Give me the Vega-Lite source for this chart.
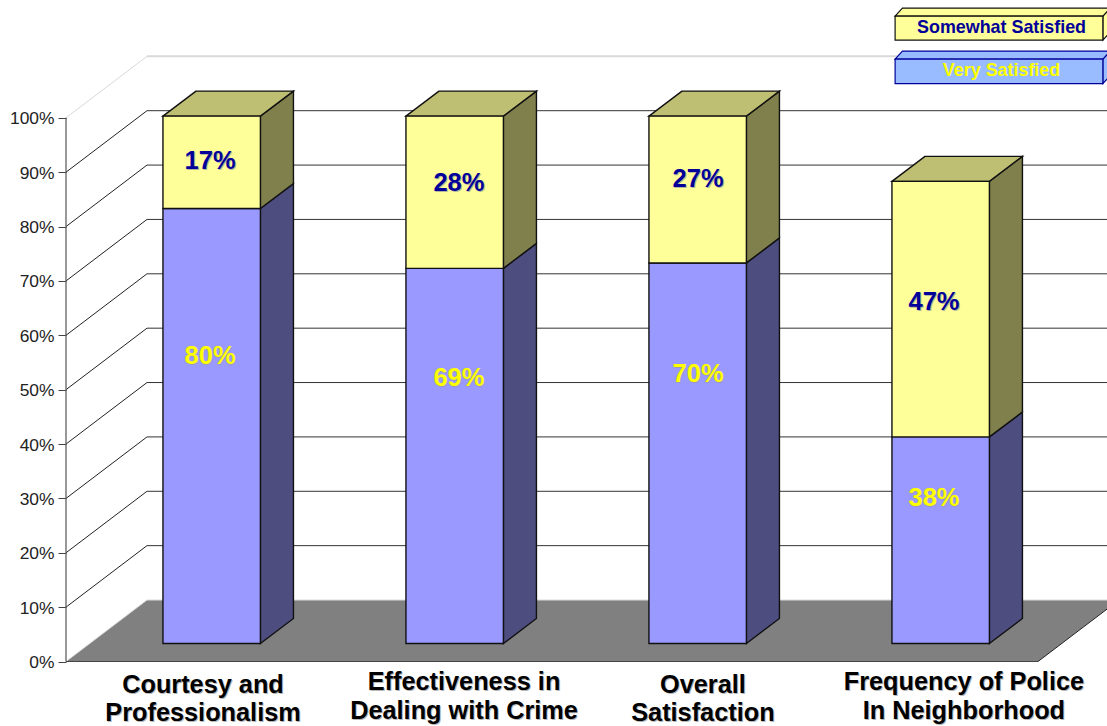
{
"$schema":"https://vega.github.io/schema/vega-lite/v6.json",
"width":1107,"height":726,"padding":0,"autosize":{"type":"none"},"background":"white",
"config":{"view":{"stroke":null},"text":{"font":"Liberation Sans"}},
"params":[
{"name":"wallX","value":0.3333},{"name":"wallY","value":11.31},
{"name":"barStart","value":0.399},{"name":"barWidth","value":0.401},
{"name":"barDepthX","value":0.136},{"name":"barDepthY","value":4.6},{"name":"lift","value":3.31}
],
"datasets":{
"shares":[
{"question":"Courtesy and\nProfessionalism","slot":0,"series":"Very Satisfied","share":80},
{"question":"Courtesy and\nProfessionalism","slot":0,"series":"Somewhat Satisfied","share":17},
{"question":"Effectiveness in\nDealing with Crime","slot":1,"series":"Very Satisfied","share":69},
{"question":"Effectiveness in\nDealing with Crime","slot":1,"series":"Somewhat Satisfied","share":28},
{"question":"Overall\nSatisfaction","slot":2,"series":"Very Satisfied","share":70},
{"question":"Overall\nSatisfaction","slot":2,"series":"Somewhat Satisfied","share":27},
{"question":"Frequency of Police\nIn Neighborhood","slot":3,"series":"Very Satisfied","share":38},
{"question":"Frequency of Police\nIn Neighborhood","slot":3,"series":"Somewhat Satisfied","share":47}
],
"questions":[
{"question":"Courtesy and\nProfessionalism","slot":0},
{"question":"Effectiveness in\nDealing with Crime","slot":1},
{"question":"Overall\nSatisfaction","slot":2},
{"question":"Frequency of Police\nIn Neighborhood","slot":3}
],
"ticks":[{"pct":0},{"pct":10},{"pct":20},{"pct":30},{"pct":40},{"pct":50},{"pct":60},{"pct":70},{"pct":80},{"pct":90},{"pct":100}],
"legendItems":[{"series":"Somewhat Satisfied","rank":0},{"series":"Very Satisfied","rank":1}],
"edges":[{"edge":0},{"edge":1}]
},
"layer":[
{"data":{"name":"edges"},
 "transform":[{"calculate":"datum.edge*wallX","as":"xa"},{"calculate":"4+datum.edge*wallX","as":"xb"},{"calculate":"datum.edge*wallY","as":"yy"}],
 "mark":{"type":"area","orient":"horizontal","fill":"#808080","clip":true},
 "encoding":{
  "x":{"field":"xa","type":"quantitative","scale":{"domain":[-0.2716,4.284]},"axis":null},
  "x2":{"field":"xb"},
  "y":{"field":"yy","type":"quantitative","scale":{"domain":[-11.86,121.67]},
   "axis":{"orient":"left","values":[0,10,20,30,40,50,60,70,80,90,100],"labelExpr":"datum.value+'%'","title":null,"domain":false,"grid":false,"offset":-66,"ticks":true,"labels":true,"tickSize":8,"tickColor":"#444444","labelFont":"Liberation Sans","labelFontSize":17.4,"labelColor":"#222222","labelPadding":4,"labelOffset":1,"labelOverlap":false,"labelFlush":false}}}},
{"data":{"name":"ticks"},
 "transform":[{"calculate":"datum.pct+wallY","as":"back"},{"calculate":"wallX","as":"xa"},{"calculate":"4.284","as":"xb"}],
 "mark":{"type":"rule"},
 "encoding":{
  "x":{"field":"xa","type":"quantitative","scale":{"domain":[-0.2716,4.284]},"axis":null},
  "x2":{"field":"xb"},
  "y":{"field":"back","type":"quantitative","scale":{"domain":[-11.86,121.67]}},
  "stroke":{"condition":{"test":"datum.pct==100||datum.pct==0","value":"#d9d9d9"},"value":"#333333"},
  "strokeWidth":{"condition":{"test":"datum.pct==100","value":2},"value":1}}},
{"data":{"name":"ticks"},
 "transform":[{"calculate":"datum.pct+wallY","as":"back"},{"calculate":"0","as":"xa"},{"calculate":"wallX","as":"xb"}],
 "mark":{"type":"rule"},
 "encoding":{
  "x":{"field":"xa","type":"quantitative","scale":{"domain":[-0.2716,4.284]},"axis":null},
  "x2":{"field":"xb"},
  "y":{"field":"pct","type":"quantitative","scale":{"domain":[-11.86,121.67]}},
  "y2":{"field":"back"},
  "stroke":{"condition":{"test":"datum.pct==100||datum.pct==0","value":"#d9d9d9"},"value":"#222222"}}},
{"data":{"name":"ticks"},
 "transform":[{"filter":"datum.pct==0"},{"calculate":"datum.pct+100","as":"top"},{"calculate":"0","as":"xa"}],
 "mark":{"type":"rule","stroke":"#555555","strokeWidth":1.2},
 "encoding":{
  "x":{"field":"xa","type":"quantitative","scale":{"domain":[-0.2716,4.284]},"axis":null},
  "y":{"field":"pct","type":"quantitative","scale":{"domain":[-11.86,121.67]}},
  "y2":{"field":"top"}}},
{"data":{"name":"ticks"},
 "transform":[{"filter":"datum.pct==0"},{"calculate":"0","as":"xa"},{"calculate":"4","as":"xb"}],
 "mark":{"type":"rule","stroke":"#444444","strokeWidth":1.2},
 "encoding":{
  "x":{"field":"xa","type":"quantitative","scale":{"domain":[-0.2716,4.284]},"axis":null},
  "x2":{"field":"xb"},
  "y":{"field":"pct","type":"quantitative","scale":{"domain":[-11.86,121.67]}}}},
{"data":{"name":"ticks"},
 "transform":[{"filter":"datum.pct==0"},{"calculate":"wallY","as":"back"},{"calculate":"4","as":"xa"},{"calculate":"4+wallX","as":"xb"}],
 "mark":{"type":"rule","stroke":"#222222","strokeWidth":1,"clip":true},
 "encoding":{
  "x":{"field":"xa","type":"quantitative","scale":{"domain":[-0.2716,4.284]},"axis":null},
  "x2":{"field":"xb"},
  "y":{"field":"pct","type":"quantitative","scale":{"domain":[-11.86,121.67]}},
  "y2":{"field":"back"}}},
{"data":{"name":"shares"},
 "transform":[
  {"stack":"share","groupby":["question"],"sort":[{"field":"series","order":"descending"}],"as":["low","high"]},
  {"calculate":"[0,1]","as":"edge"},{"flatten":["edge"]},
  {"calculate":"datum.slot+barStart+barWidth+datum.edge*barDepthX","as":"xa"},
  {"calculate":"datum.low+lift+datum.edge*barDepthY","as":"ya"},
  {"calculate":"datum.high+lift+datum.edge*barDepthY","as":"yb"},
  {"calculate":"datum.series+' side'","as":"face"}],
 "mark":{"type":"area","stroke":"#111111","strokeWidth":1.4},
 "encoding":{
  "x":{"field":"xa","type":"quantitative","scale":{"domain":[-0.2716,4.284]},"axis":null},
  "y":{"field":"ya","type":"quantitative","scale":{"domain":[-11.86,121.67]}},
  "y2":{"field":"yb"},
  "detail":[{"field":"question"},{"field":"series"}],
  "fill":{"field":"face","type":"nominal","legend":null,"scale":{"domain":["Very Satisfied front","Very Satisfied side","Somewhat Satisfied front","Somewhat Satisfied side","Somewhat Satisfied top","Somewhat Satisfied key","Very Satisfied key"],"range":["#9999FF","#4D4D80","#FFFF99","#80804D","#BFBF73","#FFFF99","#99BBFF"]}}}},
{"data":{"name":"shares"},
 "transform":[
  {"stack":"share","groupby":["question"],"sort":[{"field":"series","order":"descending"}],"as":["low","high"]},
  {"filter":"datum.series=='Somewhat Satisfied'"},
  {"calculate":"[0,1]","as":"edge"},{"flatten":["edge"]},
  {"calculate":"datum.slot+barStart+datum.edge*barDepthX","as":"xa"},
  {"calculate":"datum.slot+barStart+barWidth+datum.edge*barDepthX","as":"xb"},
  {"calculate":"datum.high+lift+datum.edge*barDepthY","as":"ya"},
  {"calculate":"datum.series+' top'","as":"face"}],
 "mark":{"type":"area","orient":"horizontal","stroke":"#111111","strokeWidth":1.4},
 "encoding":{
  "x":{"field":"xa","type":"quantitative","scale":{"domain":[-0.2716,4.284]},"axis":null},
  "x2":{"field":"xb"},
  "y":{"field":"ya","type":"quantitative","scale":{"domain":[-11.86,121.67]}},
  "detail":{"field":"question"},
  "fill":{"field":"face","type":"nominal","legend":null,"scale":{"domain":["Very Satisfied front","Very Satisfied side","Somewhat Satisfied front","Somewhat Satisfied side","Somewhat Satisfied top","Somewhat Satisfied key","Very Satisfied key"],"range":["#9999FF","#4D4D80","#FFFF99","#80804D","#BFBF73","#FFFF99","#99BBFF"]}}}},
{"data":{"name":"shares"},
 "transform":[
  {"stack":"share","groupby":["question"],"sort":[{"field":"series","order":"descending"}],"as":["low","high"]},
  {"calculate":"datum.slot+barStart","as":"xa"},
  {"calculate":"datum.slot+barStart+barWidth","as":"xb"},
  {"calculate":"datum.low+lift","as":"ya"},
  {"calculate":"datum.high+lift","as":"yb"},
  {"calculate":"datum.series+' front'","as":"face"}],
 "mark":{"type":"rect","stroke":"#111111","strokeWidth":1.4},
 "encoding":{
  "x":{"field":"xa","type":"quantitative","scale":{"domain":[-0.2716,4.284]},"axis":null},
  "x2":{"field":"xb"},
  "y":{"field":"ya","type":"quantitative","scale":{"domain":[-11.86,121.67]}},
  "y2":{"field":"yb"},
  "fill":{"field":"face","type":"nominal","legend":null,"scale":{"domain":["Very Satisfied front","Very Satisfied side","Somewhat Satisfied front","Somewhat Satisfied side","Somewhat Satisfied top","Somewhat Satisfied key","Very Satisfied key"],"range":["#9999FF","#4D4D80","#FFFF99","#80804D","#BFBF73","#FFFF99","#99BBFF"]}}}},
{"data":{"name":"shares"},
 "transform":[
  {"calculate":"[0.593,1.617,2.601,3.572][datum.slot]","as":"xa"},
  {"calculate":"(datum.series=='Very Satisfied'?[56.25,52.15,52.95,30.15]:[92.05,88.05,88.75,66.15])[datum.slot]","as":"ya"},
  {"calculate":"datum.share+'%'","as":"caption"}],
 "mark":{"type":"text","font":"Liberation Sans","fontWeight":"bold","fontSize":25.5,"baseline":"middle","align":"center","dx":1,"dy":1,"fill":"#9a9a9a","opacity":0.7},
 "encoding":{
  "x":{"field":"xa","type":"quantitative","scale":{"domain":[-0.2716,4.284]},"axis":null},
  "y":{"field":"ya","type":"quantitative","scale":{"domain":[-11.86,121.67]}},
  "text":{"field":"caption"}}},
{"data":{"name":"shares"},
 "transform":[
  {"calculate":"[0.593,1.617,2.601,3.572][datum.slot]","as":"xa"},
  {"calculate":"(datum.series=='Very Satisfied'?[56.25,52.15,52.95,30.15]:[92.05,88.05,88.75,66.15])[datum.slot]","as":"ya"},
  {"calculate":"datum.share+'%'","as":"caption"}],
 "mark":{"type":"text","font":"Liberation Sans","fontWeight":"bold","fontSize":25.5,"baseline":"middle","align":"center"},
 "encoding":{
  "x":{"field":"xa","type":"quantitative","scale":{"domain":[-0.2716,4.284]},"axis":null},
  "y":{"field":"ya","type":"quantitative","scale":{"domain":[-11.86,121.67]}},
  "text":{"field":"caption"},
  "color":{"condition":{"test":"datum.series=='Very Satisfied'","value":"#FFFF00"},"value":"#000099"}}},
{"data":{"name":"questions"},
 "transform":[
  {"calculate":"[0.5638,1.638,2.621,3.695][datum.slot]","as":"xa"},
  {"calculate":"[-4.3,-3.8,-4.3,-3.8][datum.slot]","as":"ya"}],
 "mark":{"type":"text","font":"Liberation Sans","fontWeight":"bold","fontSize":25.3,"lineHeight":28.5,"lineBreak":"\n","baseline":"middle","align":"center","dx":1,"dy":1,"fill":"#999999","opacity":0.7},
 "encoding":{
  "x":{"field":"xa","type":"quantitative","scale":{"domain":[-0.2716,4.284]},"axis":null},
  "y":{"field":"ya","type":"quantitative","scale":{"domain":[-11.86,121.67]}},
  "text":{"field":"question"}}},
{"data":{"name":"questions"},
 "transform":[
  {"calculate":"[0.5638,1.638,2.621,3.695][datum.slot]","as":"xa"},
  {"calculate":"[-4.3,-3.8,-4.3,-3.8][datum.slot]","as":"ya"}],
 "mark":{"type":"text","font":"Liberation Sans","fontWeight":"bold","fontSize":25.3,"lineHeight":28.5,"lineBreak":"\n","baseline":"middle","align":"center","fill":"#000000"},
 "encoding":{
  "x":{"field":"xa","type":"quantitative","scale":{"domain":[-0.2716,4.284]},"axis":null},
  "y":{"field":"ya","type":"quantitative","scale":{"domain":[-11.86,121.67]}},
  "text":{"field":"question"}}},
{"data":{"name":"legendItems"},
 "transform":[
  {"calculate":"[0,1]","as":"edge"},{"flatten":["edge"]},
  {"calculate":"4.267+datum.edge*0.03","as":"xa"},
  {"calculate":"[114.3,106.3][datum.rank]+datum.edge*1.47","as":"ya"},
  {"calculate":"[118.7,110.8][datum.rank]+datum.edge*1.47","as":"yb"},
  {"calculate":"datum.series+' key'","as":"face"}],
 "mark":{"type":"area","strokeWidth":1.2,"clip":true},
 "encoding":{
  "x":{"field":"xa","type":"quantitative","scale":{"domain":[-0.2716,4.284]},"axis":null},
  "y":{"field":"ya","type":"quantitative","scale":{"domain":[-11.86,121.67]}},
  "y2":{"field":"yb"},
  "detail":{"field":"series"},
  "stroke":{"field":"series","type":"nominal","legend":null,"scale":{"domain":["Somewhat Satisfied","Very Satisfied"],"range":["#111111","#000099"]}},
  "fill":{"field":"face","type":"nominal","legend":null,"scale":{"domain":["Very Satisfied front","Very Satisfied side","Somewhat Satisfied front","Somewhat Satisfied side","Somewhat Satisfied top","Somewhat Satisfied key","Very Satisfied key"],"range":["#9999FF","#4D4D80","#FFFF99","#80804D","#BFBF73","#FFFF99","#99BBFF"]}}}},
{"data":{"name":"legendItems"},
 "transform":[
  {"calculate":"[0,1]","as":"edge"},{"flatten":["edge"]},
  {"calculate":"3.412+datum.edge*0.03","as":"xa"},
  {"calculate":"4.267+datum.edge*0.03","as":"xb"},
  {"calculate":"[118.7,110.8][datum.rank]+datum.edge*1.47","as":"ya"},
  {"calculate":"datum.series+' key'","as":"face"}],
 "mark":{"type":"area","orient":"horizontal","strokeWidth":1.2},
 "encoding":{
  "x":{"field":"xa","type":"quantitative","scale":{"domain":[-0.2716,4.284]},"axis":null},
  "x2":{"field":"xb"},
  "y":{"field":"ya","type":"quantitative","scale":{"domain":[-11.86,121.67]}},
  "detail":{"field":"series"},
  "stroke":{"field":"series","type":"nominal","legend":null,"scale":{"domain":["Somewhat Satisfied","Very Satisfied"],"range":["#111111","#000099"]}},
  "fill":{"field":"face","type":"nominal","legend":null,"scale":{"domain":["Very Satisfied front","Very Satisfied side","Somewhat Satisfied front","Somewhat Satisfied side","Somewhat Satisfied top","Somewhat Satisfied key","Very Satisfied key"],"range":["#9999FF","#4D4D80","#FFFF99","#80804D","#BFBF73","#FFFF99","#99BBFF"]}}}},
{"data":{"name":"legendItems"},
 "transform":[
  {"calculate":"3.412","as":"xa"},{"calculate":"4.267","as":"xb"},
  {"calculate":"[114.3,106.3][datum.rank]","as":"ya"},
  {"calculate":"[118.7,110.8][datum.rank]","as":"yb"},
  {"calculate":"datum.series+' key'","as":"face"}],
 "mark":{"type":"rect","strokeWidth":1.2},
 "encoding":{
  "x":{"field":"xa","type":"quantitative","scale":{"domain":[-0.2716,4.284]},"axis":null},
  "x2":{"field":"xb"},
  "y":{"field":"ya","type":"quantitative","scale":{"domain":[-11.86,121.67]}},
  "y2":{"field":"yb"},
  "stroke":{"field":"series","type":"nominal","legend":null,"scale":{"domain":["Somewhat Satisfied","Very Satisfied"],"range":["#111111","#000099"]}},
  "fill":{"field":"face","type":"nominal","legend":null,"scale":{"domain":["Very Satisfied front","Very Satisfied side","Somewhat Satisfied front","Somewhat Satisfied side","Somewhat Satisfied top","Somewhat Satisfied key","Very Satisfied key"],"range":["#9999FF","#4D4D80","#FFFF99","#80804D","#BFBF73","#FFFF99","#99BBFF"]}}}},
{"data":{"name":"legendItems"},
 "transform":[
  {"calculate":"3.85","as":"xa"},
  {"calculate":"[116.6,108.7][datum.rank]","as":"ya"}],
 "mark":{"type":"text","font":"Liberation Sans","fontWeight":"bold","fontSize":17.9,"baseline":"middle","align":"center"},
 "encoding":{
  "x":{"field":"xa","type":"quantitative","scale":{"domain":[-0.2716,4.284]},"axis":null},
  "y":{"field":"ya","type":"quantitative","scale":{"domain":[-11.86,121.67]}},
  "text":{"field":"series"},
  "color":{"condition":{"test":"datum.rank==1","value":"#FFFF00"},"value":"#000099"}}}
]
}
